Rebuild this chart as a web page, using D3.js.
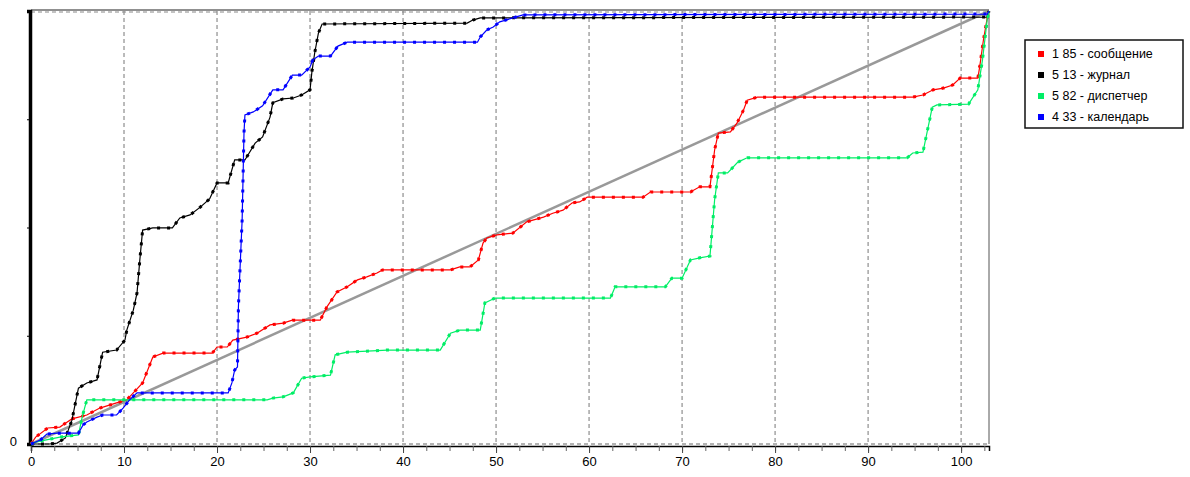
<!DOCTYPE html>
<html><head><meta charset="utf-8">
<script src="https://cdn.jsdelivr.net/npm/d3@7"></script>
<style>
body{margin:0;background:#fff;}
svg{display:block;font-family:"Liberation Sans",Arial,sans-serif;}
</style></head>
<body><svg id="c" width="1190" height="477"></svg>
<script>
// ---- data ----
const xTicks = [0,10,20,30,40,50,60,70,80,90,100];
const yTicks = [0,0.25,0.5,0.75,1];
const seriesNames = ["1 85 - сообщение","5 13 - журнал","5 82 - диспетчер","4 33 - календарь"];
const seriesColors = ["#ff0000","#000000","#00ee66","#0000ff"];

const red = [[0,0],[0.5,0.016],[1.8,0.037],[3.1,0.039],[3.7,0.048],[4.4,0.058],[6.0,0.067],[7.4,0.083],[9.2,0.095],[10.3,0.102],[12.0,0.141],[13.1,0.201],[14.2,0.21],[19.5,0.21],[20.0,0.224],[21.1,0.224],[21.7,0.24],[23.2,0.247],[24.3,0.256],[25.7,0.275],[27.1,0.279],[28.1,0.286],[31.1,0.286],[31.8,0.316],[32.9,0.351],[34.0,0.363],[35.1,0.379],[36.1,0.386],[37.2,0.395],[37.8,0.402],[45.1,0.402],[46.1,0.409],[47.2,0.409],[48.1,0.425],[48.6,0.464],[49.0,0.476],[50.1,0.483],[51.8,0.487],[53.3,0.513],[55.1,0.524],[56.1,0.533],[57.2,0.54],[58.2,0.557],[59.0,0.559],[59.8,0.57],[65.8,0.57],[66.6,0.582],[70.9,0.582],[71.9,0.594],[73.0,0.594],[73.5,0.679],[73.9,0.718],[75.2,0.721],[75.9,0.741],[76.6,0.771],[77.0,0.794],[78.1,0.801],[94.8,0.801],[95.9,0.806],[97.0,0.818],[98.1,0.822],[99.1,0.829],[99.9,0.845],[101.8,0.845],[102.0,0.871],[102.4,0.933],[102.9,0.995],[103,1]];

const black = [[0,0],[2.0,0],[2.8,0.002],[3.7,0.014],[4.4,0.055],[5.1,0.129],[6.0,0.141],[7.1,0.148],[7.7,0.212],[9.2,0.217],[10.1,0.24],[10.3,0.263],[11.0,0.309],[11.4,0.349],[11.7,0.425],[12.0,0.494],[13.1,0.499],[15.2,0.499],[16.0,0.522],[17.1,0.529],[18.2,0.547],[19.2,0.566],[20.0,0.603],[21.2,0.603],[21.9,0.656],[23.0,0.656],[24.1,0.695],[24.9,0.709],[25.7,0.755],[26.0,0.788],[27.1,0.797],[28.2,0.799],[29.1,0.806],[30.0,0.818],[30.2,0.859],[30.5,0.903],[30.9,0.949],[31.3,0.97],[46.9,0.972],[47.5,0.979],[48.3,0.984],[102.8,0.986],[103,1]];

const green = [[0,0],[0.6,0.005],[3.1,0.016],[5.1,0.021],[5.5,0.062],[6.0,0.102],[25.4,0.102],[26.0,0.106],[27.1,0.109],[28.2,0.118],[29.1,0.152],[30.0,0.155],[32.2,0.159],[32.7,0.206],[34.0,0.212],[38.3,0.217],[44.0,0.217],[45.1,0.256],[46.1,0.263],[48.3,0.263],[48.8,0.326],[49.9,0.337],[62.3,0.337],[62.8,0.363],[68.2,0.363],[68.9,0.383],[70.0,0.383],[70.9,0.425],[71.9,0.43],[73.0,0.434],[73.5,0.564],[73.9,0.626],[74.9,0.626],[76.0,0.651],[77.0,0.661],[94.2,0.661],[94.8,0.672],[95.9,0.674],[96.9,0.778],[97.4,0.783],[100.8,0.785],[101.8,0.818],[102.3,0.887],[102.8,0.979],[103,1]];

const blue = [[0,0],[1.0,0.009],[1.7,0.023],[2.8,0.025],[5.1,0.025],[5.6,0.044],[6.0,0.051],[7.1,0.062],[7.7,0.067],[9.2,0.067],[9.9,0.083],[10.6,0.102],[11.4,0.118],[21.2,0.118],[21.6,0.141],[21.9,0.171],[22.2,0.178],[22.3,0.316],[22.5,0.418],[22.7,0.517],[22.9,0.718],[23.0,0.76],[23.9,0.767],[24.9,0.781],[26.0,0.818],[27.1,0.818],[28.1,0.852],[29.1,0.852],[30.0,0.871],[30.3,0.887],[30.9,0.896],[32.2,0.896],[33.0,0.919],[34.0,0.928],[48.0,0.928],[48.3,0.94],[49.0,0.956],[49.7,0.963],[50.4,0.975],[51.8,0.984],[52.9,0.991],[102.8,0.993],[103,1]];

const diagonal = [[0,0],[103,1]];
const seriesData = [red, black, green, blue];

// ---- drawing ----
const svg = d3.select("#c");
const x = d3.scaleLinear().domain([0,103]).range([31,989]);
const y = d3.scaleLinear().domain([0,1]).range([444,11]);

// vertical grid
svg.append("g").selectAll("line").data(xTicks.filter(d=>d>0).concat([103])).join("line")
  .attr("x1",d=>x(d)).attr("x2",d=>x(d)).attr("y1",y(1)).attr("y2",y(0))
  .attr("stroke",d=>d===103?"#555":"#777").attr("stroke-width",1)
  .attr("stroke-dasharray",d=>d===103?null:"4,3");

// top border
svg.append("line").attr("x1",x(0)).attr("x2",x(103)).attr("y1",y(1)-1).attr("y2",y(1)-1)
  .attr("stroke","#222").attr("stroke-width",1.2);
svg.append("line").attr("x1",x(0)).attr("x2",x(103)).attr("y1",y(1)+1).attr("y2",y(1)+1)
  .attr("stroke","#888").attr("stroke-width",1).attr("stroke-dasharray","4,3");
// bottom dashed
svg.append("line").attr("x1",x(0)).attr("x2",x(103)).attr("y1",y(0)).attr("y2",y(0))
  .attr("stroke","#666").attr("stroke-width",1).attr("stroke-dasharray","4,3");

// x axis
const minor = d3.range(0,103,2.5);
const gxMinor = svg.append("g").attr("transform",`translate(0,${y(0)+2})`)
  .call(d3.axisBottom(x).tickValues(minor).tickSize(5).tickFormat(""));
gxMinor.select(".domain").attr("stroke","#000").attr("stroke-width",1.5);
gxMinor.selectAll(".tick line").attr("stroke","#666");
const gx = svg.append("g").attr("transform",`translate(0,${y(0)+2})`)
  .call(d3.axisBottom(x).tickValues(xTicks).tickSize(7).tickPadding(4).tickFormat(d3.format("d")));
gx.select(".domain").remove();
gx.selectAll(".tick line").attr("stroke","#444");
gx.selectAll("text").attr("font-size",13).attr("fill","#000");

// y axis
const gy = svg.append("g").attr("transform",`translate(${x(0)-1},0)`)
  .call(d3.axisLeft(y).tickValues(yTicks).tickSize(3).tickPadding(10).tickFormat(d=>d===0?"0":""));
gy.select(".domain").attr("stroke","#000").attr("stroke-width",3.5);
gy.selectAll("text").attr("font-size",13).attr("fill","#000").attr("dy","0.15em");

// diagonal
const line = d3.line().x(d=>x(d[0])).y(d=>y(d[1]));
svg.append("path").datum(diagonal).attr("d",line).attr("fill","none")
  .attr("stroke","#999").attr("stroke-width",2.5);

// series: thin line plus dashed thick overlay (marker look)
seriesData.forEach((data,i)=>{
  const g = svg.append("g");
  g.append("path").datum(data).attr("d",line).attr("fill","none")
    .attr("stroke",seriesColors[i]).attr("stroke-width",1.2);
  g.append("path").datum(data).attr("d",line).attr("fill","none")
    .attr("stroke",seriesColors[i]).attr("stroke-width",3)
    .attr("stroke-dasharray","3,7");
});

// legend
const lg = svg.append("g");
lg.append("rect").attr("x",1025).attr("y",40).attr("width",158).attr("height",88)
  .attr("fill","#fff").attr("stroke","#111").attr("stroke-width",1.5);
seriesNames.forEach((n,i)=>{
  const yy = 54 + i*21;
  lg.append("rect").attr("x",1038).attr("y",yy-3).attr("width",6).attr("height",6).attr("fill",seriesColors[i]);
  lg.append("text").attr("x",1052).attr("y",yy).attr("dy","0.35em")
    .attr("font-size",12.5).attr("fill","#000").text(n);
});
</script>
</body></html>
